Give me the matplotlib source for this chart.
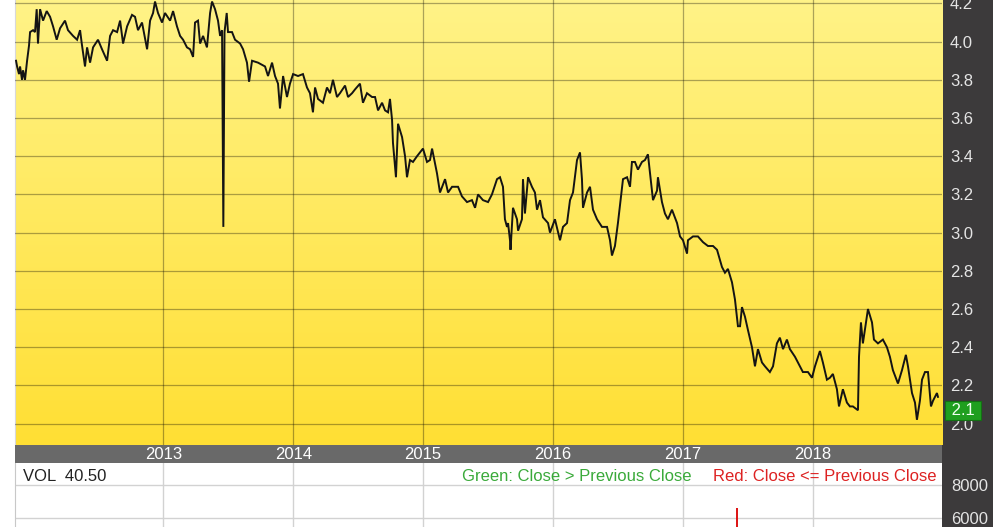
import matplotlib
matplotlib.use('Agg')
import matplotlib.pyplot as plt
import numpy as np
from matplotlib.patches import Rectangle
import matplotlib.transforms as mtransforms

plt.rcParams['font.family'] = ['Liberation Sans', 'DejaVu Sans']

# ---------------- data (decimal year, close price) ----------------
dates = [
    2011.866, 2011.874, 2011.889, 2011.897, 2011.912, 2011.920, 2011.935, 2011.943, 2011.951, 2011.966,
    2011.974, 2011.997, 2012.012, 2012.025, 2012.035, 2012.051, 2012.074, 2012.102, 2012.128, 2012.151,
    2012.179, 2012.205, 2012.243, 2012.266, 2012.305, 2012.336, 2012.359, 2012.372, 2012.397, 2012.413,
    2012.436, 2012.459, 2012.497, 2012.528, 2012.567, 2012.590, 2012.613, 2012.644, 2012.667, 2012.690,
    2012.721, 2012.759, 2012.782, 2012.805, 2012.836, 2012.875, 2012.898, 2012.921, 2012.936, 2012.959,
    2012.990, 2013.013, 2013.052, 2013.075, 2013.105, 2013.129, 2013.152, 2013.182, 2013.206, 2013.229,
    2013.244, 2013.267, 2013.283, 2013.306, 2013.336, 2013.360, 2013.375, 2013.398, 2013.421, 2013.437,
    2013.452, 2013.462, 2013.471, 2013.488, 2013.498, 2013.529, 2013.552, 2013.591, 2013.614, 2013.644,
    2013.660,
    2013.683, 2013.729, 2013.783, 2013.806, 2013.837, 2013.860, 2013.883, 2013.898, 2013.922, 2013.952,
    2013.975, 2013.999, 2014.037, 2014.075, 2014.106, 2014.129, 2014.152, 2014.168, 2014.191, 2014.229,
    2014.260, 2014.283, 2014.306, 2014.337, 2014.360, 2014.399, 2014.422, 2014.453, 2014.476, 2014.514,
    2014.537, 2014.568, 2014.607, 2014.630, 2014.653, 2014.684, 2014.707, 2014.730, 2014.745, 2014.761,
    2014.768, 2014.791, 2014.807, 2014.838, 2014.861, 2014.876, 2014.899, 2014.922, 2014.953, 2014.976,
    2014.999, 2015.030, 2015.053, 2015.069, 2015.107, 2015.130, 2015.169, 2015.192, 2015.223, 2015.269,
    2015.299, 2015.338, 2015.376, 2015.400, 2015.423, 2015.461, 2015.500, 2015.530, 2015.569, 2015.592,
    2015.615, 2015.630,
    2015.646, 2015.654, 2015.669, 2015.673, 2015.692, 2015.723, 2015.731, 2015.761, 2015.769, 2015.784,
    2015.808, 2015.838, 2015.861, 2015.877, 2015.900, 2015.923, 2015.962, 2015.977, 2016.015, 2016.054,
    2016.077, 2016.108, 2016.131, 2016.154, 2016.185, 2016.208, 2016.223, 2016.231, 2016.262, 2016.285,
    2016.308, 2016.339, 2016.377, 2016.416, 2016.439, 2016.454, 2016.477, 2016.500, 2016.539, 2016.570,
    2016.593, 2016.608, 2016.631, 2016.654, 2016.685, 2016.708, 2016.731, 2016.747, 2016.770, 2016.801,
    2016.808, 2016.839, 2016.862, 2016.885, 2016.916, 2016.955, 2016.978, 2017.001, 2017.032, 2017.039,
    2017.078, 2017.116, 2017.155, 2017.193, 2017.232, 2017.263, 2017.301,
    2017.324, 2017.347, 2017.378, 2017.401, 2017.424, 2017.440, 2017.455, 2017.478, 2017.501, 2017.532,
    2017.555, 2017.578, 2017.609, 2017.632, 2017.670, 2017.694, 2017.724, 2017.747, 2017.771, 2017.801,
    2017.824, 2017.863, 2017.901, 2017.924, 2017.963, 2017.994, 2018.017, 2018.055, 2018.078, 2018.109,
    2018.132, 2018.155, 2018.186, 2018.202, 2018.225, 2018.232, 2018.263, 2018.286, 2018.309, 2018.348,
    2018.356, 2018.371, 2018.386, 2018.425, 2018.456, 2018.471, 2018.502, 2018.540, 2018.571, 2018.594,
    2018.617, 2018.656, 2018.687, 2018.717, 2018.733, 2018.764, 2018.787, 2018.802, 2018.825, 2018.841,
    2018.864, 2018.887, 2018.910, 2018.926, 2018.956, 2018.964,
]
prices = [
    3.90, 3.87, 3.83, 3.87, 3.80, 3.85, 3.80, 3.85, 3.90, 3.98,
    4.05, 4.06, 4.05, 4.17, 3.99, 4.17, 4.11, 4.16, 4.13, 4.08,
    4.01, 4.07, 4.11, 4.06, 4.03, 4.01, 4.06, 3.99, 3.87, 3.97,
    3.89, 3.97, 4.01, 3.96, 3.90, 4.03, 4.06, 4.05, 4.11, 3.99,
    4.08, 4.14, 4.13, 4.06, 4.10, 3.96, 4.11, 4.15, 4.21, 4.15,
    4.10, 4.15, 4.11, 4.16, 4.08, 4.03, 4.01, 3.97, 3.96, 3.92,
    4.10, 4.11, 3.99, 4.03, 3.97, 4.15, 4.21, 4.17, 4.11, 4.03,
    4.06, 3.03, 4.05, 4.15, 4.05, 4.05, 4.01, 3.99, 3.96, 3.89,
    3.79,
    3.90, 3.89, 3.87, 3.82, 3.89, 3.82, 3.78, 3.65, 3.82, 3.71,
    3.78, 3.83, 3.82, 3.83, 3.76, 3.73, 3.63, 3.76, 3.70, 3.68,
    3.76, 3.73, 3.80, 3.71, 3.73, 3.77, 3.71, 3.73, 3.75, 3.78,
    3.68, 3.73, 3.71, 3.71, 3.64, 3.68, 3.64, 3.63, 3.70, 3.59,
    3.47, 3.29, 3.57, 3.50, 3.40, 3.29, 3.38, 3.37, 3.40, 3.42,
    3.44, 3.37, 3.38, 3.44, 3.31, 3.21, 3.28, 3.21, 3.24, 3.24,
    3.19, 3.16, 3.17, 3.13, 3.20, 3.17, 3.16, 3.20, 3.28, 3.29,
    3.24, 3.07,
    3.03, 3.05, 2.96, 2.91, 3.13, 3.07, 3.01, 3.07, 3.28, 3.10,
    3.29, 3.24, 3.21, 3.12, 3.17, 3.08, 3.05, 3.00, 3.07, 2.96,
    3.03, 3.05, 3.17, 3.21, 3.38, 3.42, 3.28, 3.13, 3.21, 3.24,
    3.12, 3.07, 3.03, 3.03, 2.96, 2.88, 2.93, 3.05, 3.28, 3.29,
    3.24, 3.37, 3.37, 3.33, 3.37, 3.38, 3.41, 3.31, 3.17, 3.22,
    3.29, 3.16, 3.10, 3.07, 3.12, 3.05, 2.98, 2.96, 2.89, 2.96,
    2.98, 2.98, 2.95, 2.93, 2.93, 2.91, 2.82,
    2.79, 2.81, 2.74, 2.65, 2.51, 2.51, 2.61, 2.56, 2.49, 2.40,
    2.30, 2.39, 2.32, 2.30, 2.27, 2.30, 2.42, 2.45, 2.39, 2.44,
    2.39, 2.35, 2.30, 2.27, 2.27, 2.24, 2.30, 2.38, 2.32, 2.23,
    2.24, 2.26, 2.18, 2.09, 2.16, 2.18, 2.11, 2.09, 2.09, 2.07,
    2.35, 2.53, 2.42, 2.60, 2.53, 2.44, 2.42, 2.44, 2.40, 2.35,
    2.28, 2.21, 2.28, 2.36, 2.30, 2.16, 2.11, 2.02, 2.12, 2.23,
    2.27, 2.27, 2.09, 2.12, 2.16, 2.14,
]
year_ticks = [2013, 2014, 2015, 2016, 2017, 2018]
year_labels = ['2013', '2014', '2015', '2016', '2017', '2018']
price_ticks = [2.0, 2.2, 2.4, 2.6, 2.8, 3.0, 3.2, 3.4, 3.6, 3.8, 4.0, 4.2]
vol_ticks = [0, 2000, 4000, 6000, 8000]
vol_dates = [2017.416]
vol_values = [6600]
vol_up = [False]
last_label = '2.1'
last_label_value = 2.1
vol_text = 'VOL  40.50'
legend_up = 'Green: Close > Previous Close'
legend_down = 'Red: Close <= Previous Close'

# ---------------- layout ----------------
W, H = 1005, 527
fig = plt.figure(figsize=(W / 100, H / 100), dpi=100)
fig.patch.set_facecolor('white')


def px_axes(x0, y0, x1, y1, **kw):
    return fig.add_axes([x0 / W, (H - y1) / H, (x1 - x0) / W, (y1 - y0) / H], **kw)


# dark right-hand scale strip
fig.add_artist(Rectangle((942 / W, 0), (993 - 942) / W, 1, transform=fig.transFigure,
                         facecolor='#3c3a3b', edgecolor='none', zorder=-1))

LABEL_COLOR = '#e4e4e4'

# ---- price panel ----
ax = px_axes(15, 0, 942, 445)
top = np.array([255, 243, 135]) / 255
bot = np.array([255, 223, 52]) / 255
t = np.linspace(0, 1, 256)[:, None]
grad = (top[None, :] * (1 - t) + bot[None, :] * t)[:, None, :]
ax.imshow(grad, extent=[0, 1, 0, 1], transform=ax.transAxes, aspect='auto', zorder=0)
ax.plot(dates, prices, color='#141414', lw=1.4, zorder=3, solid_joinstyle='miter')
ax.set_xlim(2011.858, 2018.995)
ax.set_ylim(1.888, 4.218)
ax.set_xticks(year_ticks)
ax.set_yticks(price_ticks)
ax.set_yticklabels([f'{v:.1f}' for v in price_ticks])
ax.grid(True, color='#000000', alpha=0.33, lw=0.9, zorder=1)
ax.set_axisbelow(False)
ax.yaxis.tick_right()
ax.tick_params(axis='y', length=0, pad=5.8, labelsize=12, labelcolor=LABEL_COLOR)
ax.tick_params(axis='x', length=0, labelbottom=False)
for s in ax.spines.values():
    s.set_visible(False)
ax.spines['left'].set_visible(True)
ax.spines['left'].set_color('#d8d8d8')

ax.annotate(' ' + last_label + ' ', xy=(1.0, last_label_value),
            xycoords=('axes fraction', 'data'), xytext=(5, -6), textcoords='offset pixels',
            ha='left', va='center', color='#f0fff0', fontsize=12,
            bbox=dict(boxstyle='square,pad=0.1', fc='#1f9f1f', ec='#147014', lw=0.8),
            annotation_clip=False, zorder=10)

# ---- date strip ----
axd = px_axes(15, 445, 942, 463)
axd.set_facecolor('#696969')
axd.set_xlim(ax.get_xlim())
axd.set_ylim(0, 1)
for yv, lab in zip(year_ticks, year_labels):
    axd.text(yv, 0.47, lab, ha='center', va='center', color='white', fontsize=12)
axd.set_xticks([])
axd.set_yticks([])
for s in axd.spines.values():
    s.set_visible(False)

# ---- volume panel ----
axv = px_axes(15, 463, 942, 617)
axv.set_facecolor('white')
axv.set_xlim(ax.get_xlim())
axv.set_ylim(0, 9333)
vcols = ['#33aa33' if u else '#dd1111' for u in vol_up]
axv.vlines(vol_dates, 0, vol_values, colors=vcols, lw=1.4, zorder=3)
axv.set_xticks(year_ticks)
axv.set_yticks(vol_ticks)
axv.set_yticklabels([str(v) for v in vol_ticks])
axv.grid(True, color='#d2d2d2', lw=1.0, zorder=1)
axv.yaxis.tick_right()
axv.tick_params(axis='y', length=0, pad=6.5, labelsize=12, labelcolor=LABEL_COLOR)
axv.tick_params(axis='x', length=0, labelbottom=False)
for s in axv.spines.values():
    s.set_visible(False)
axv.spines['left'].set_visible(True)
axv.spines['left'].set_color('#c8c8c8')

axv.text(0.0086, 0.915, vol_text, transform=axv.transAxes, ha='left', va='center',
         color='#222222', fontsize=12)
axv.text(0.9946, 0.915, legend_down, transform=axv.transAxes, ha='right', va='center',
         color='#dd2222', fontsize=12)
axv.text(0.7303, 0.915, legend_up, transform=axv.transAxes, ha='right', va='center',
         color='#3aaa3a', fontsize=12)

fig.savefig('out.png', dpi=100, facecolor=fig.get_facecolor())
